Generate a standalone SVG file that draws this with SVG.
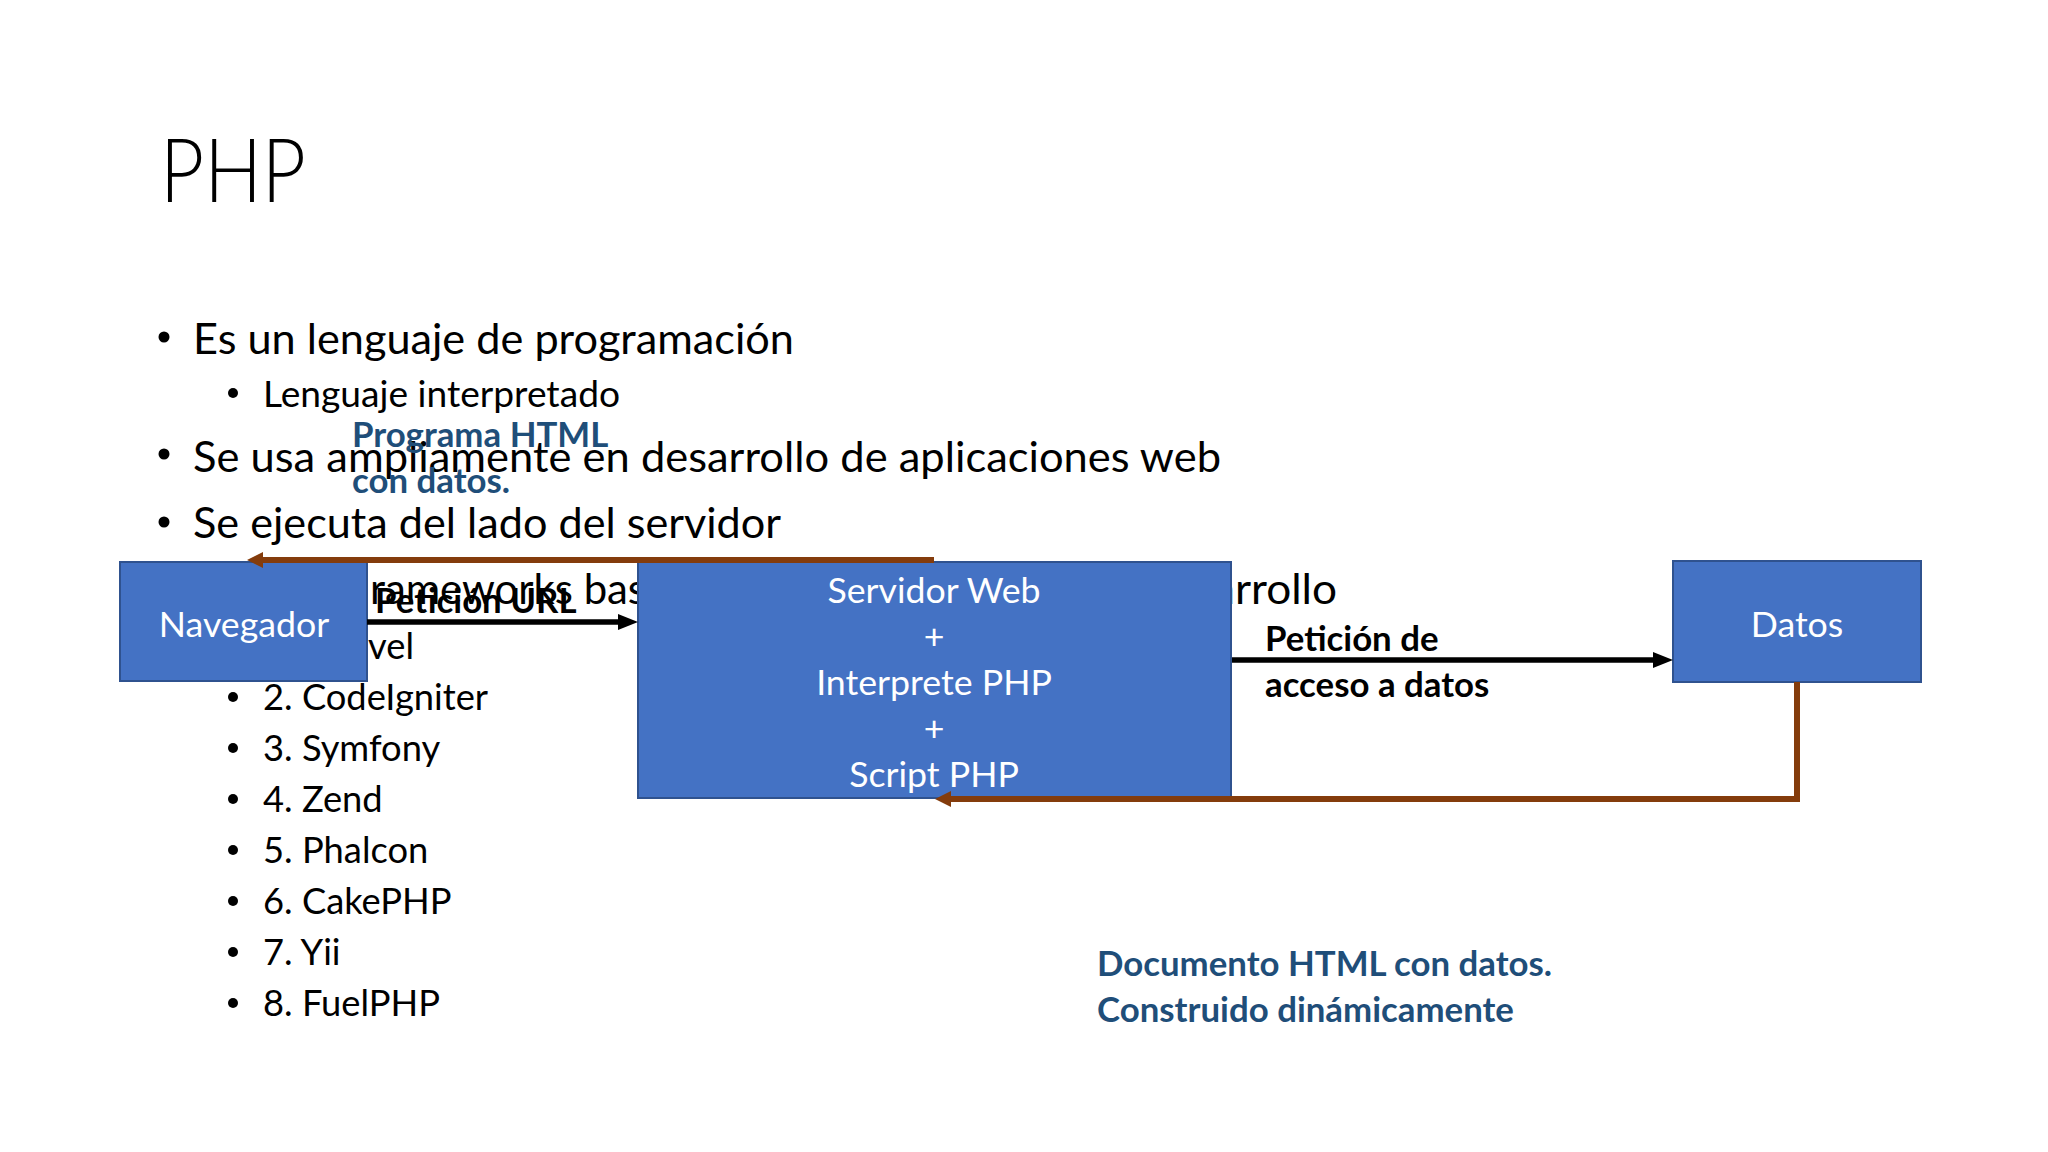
<svg xmlns="http://www.w3.org/2000/svg" width="2048" height="1152" viewBox="0 0 2048 1152">
<style>
.t{font-family:Lato,"Liberation Sans",sans-serif;fill:#000}
.title{font-size:88px;font-weight:300}
.b1{font-size:43px}
.b2{font-size:36.3px}
.lbl{font-family:Lato,"Liberation Sans",sans-serif;font-size:34.8px;font-weight:bold;fill:#000}
.blue{fill:#1F4E79}
.dot{fill:#000}
.node rect{fill:#4472C4;stroke:#2F528F;stroke-width:2}
.node text{font-family:Lato,"Liberation Sans",sans-serif;fill:#fff;font-size:35.7px;text-anchor:middle}
.brown{stroke:#843C0C;stroke-width:6;fill:none;stroke-linejoin:miter}
.blk{stroke:#000;stroke-width:5.5;fill:none}
</style>
<defs>
<marker id="ab" markerUnits="userSpaceOnUse" markerWidth="16" markerHeight="16" refX="8" refY="8" orient="auto"><path d="M0,0 L16,8 L0,16 z" fill="#843C0C"/></marker>
<marker id="ak" markerUnits="userSpaceOnUse" markerWidth="20" markerHeight="16" refX="10" refY="8" orient="auto"><path d="M0,0 L20,8 L0,16 z" fill="#000"/></marker>
</defs>
<rect width="2048" height="1152" fill="#fff"/>
<g id="slide-text">
<text class="t title" x="160" y="202" textLength="146" lengthAdjust="spacingAndGlyphs">PHP</text>
<circle class="dot" cx="164" cy="337" r="5.5"/>
<text class="t b1" x="193" y="354" textLength="601" lengthAdjust="spacingAndGlyphs">Es un lenguaje de programación</text>
<circle class="dot" cx="233" cy="393" r="5"/>
<text class="t b2" x="263" y="407" textLength="357" lengthAdjust="spacingAndGlyphs">Lenguaje interpretado</text>
<circle class="dot" cx="164" cy="454" r="5.5"/>
<text class="t b1" x="193" y="472" textLength="1028" lengthAdjust="spacingAndGlyphs">Se usa ampliamente en desarrollo de aplicaciones web</text>
<circle class="dot" cx="164" cy="522" r="5.5"/>
<text class="t b1" x="193" y="538" textLength="588" lengthAdjust="spacingAndGlyphs">Se ejecuta del lado del servidor</text>
<text class="t b1" x="370" y="604" textLength="276" lengthAdjust="spacingAndGlyphs">rameworks bas</text>
<text class="t b1" x="1213" y="604" textLength="124" lengthAdjust="spacingAndGlyphs">arrollo</text>
<text class="t b2" x="368" y="659">vel</text>
<circle class="dot" cx="233" cy="697" r="5"/>
<text class="t b2" x="263" y="710">2. CodeIgniter</text>
<circle class="dot" cx="233" cy="748" r="5"/>
<text class="t b2" x="263" y="761">3. Symfony</text>
<circle class="dot" cx="233" cy="799" r="5"/>
<text class="t b2" x="263" y="812">4. Zend</text>
<circle class="dot" cx="233" cy="850" r="5"/>
<text class="t b2" x="263" y="863">5. Phalcon</text>
<circle class="dot" cx="233" cy="901" r="5"/>
<text class="t b2" x="263" y="914">6. CakePHP</text>
<circle class="dot" cx="233" cy="952" r="5"/>
<text class="t b2" x="263" y="965">7. Yii</text>
<circle class="dot" cx="233" cy="1003" r="5"/>
<text class="t b2" x="263" y="1016">8. FuelPHP</text>
</g>
<g id="navegador" class="node">
<rect x="120" y="562" width="247" height="119"/>
<text x="244" y="637">Navegador</text>
</g>
<g id="servidor" class="node">
<rect x="638" y="562" width="593" height="236"/>
<text x="934" y="603">Servidor Web</text>
<text x="934" y="649">+</text>
<text x="934" y="695">Interprete PHP</text>
<text x="934" y="741">+</text>
<text x="934" y="787">Script PHP</text>
</g>
<g id="datos" class="node">
<rect x="1673" y="561" width="248" height="121"/>
<text x="1797" y="637">Datos</text>
</g>
<g id="connectors">
<line class="blk" x1="367" y1="622" x2="628" y2="622" marker-end="url(#ak)"/>
<line class="blk" x1="1232" y1="660" x2="1663" y2="660" marker-end="url(#ak)"/>
<line class="brown" x1="934" y1="560" x2="255" y2="560" marker-end="url(#ab)"/>
<path class="brown" d="M1797,682 V799 H943" marker-end="url(#ab)"/>
</g>
<g id="labels">
<text class="lbl blue" x="352" y="447">Programa HTML</text>
<text class="lbl blue" x="352" y="493">con datos.</text>
<text class="lbl" x="375" y="613">Petición URL</text>
<text class="lbl" x="1265" y="651">Petición de</text>
<text class="lbl" x="1265" y="697">acceso a datos</text>
<text class="lbl blue" x="1097" y="976">Documento HTML con datos.</text>
<text class="lbl blue" x="1097" y="1022">Construido dinámicamente</text>
</g>
</svg>
